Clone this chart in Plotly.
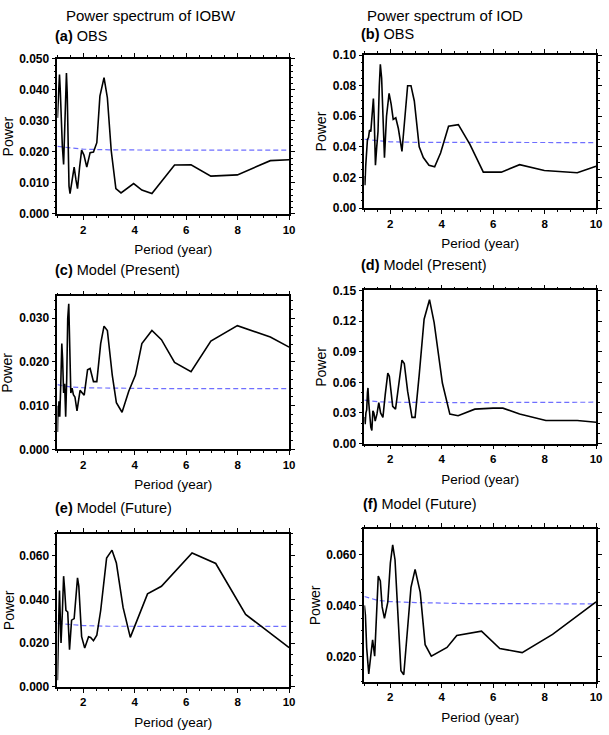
import plotly.graph_objects as go

W, H = 609, 735

# ---------------- data ----------------
a_period = [1.00, 1.04, 1.08, 1.11, 1.14, 1.19, 1.24, 1.28, 1.32, 1.35, 1.38, 1.41, 1.45, 1.49, 1.56, 1.65, 1.72, 1.78, 1.86, 1.94, 2.03, 2.14, 2.27, 2.40, 2.53, 2.65, 2.81, 2.94, 3.09, 3.27, 3.47, 3.70, 3.96, 4.28, 4.67, 5.55, 6.19, 6.96, 7.99, 9.27, 10.0]
a_power = [0.031, 0.038, 0.045, 0.040, 0.030, 0.022, 0.016, 0.028, 0.040, 0.0455, 0.039, 0.020, 0.009, 0.0066, 0.011, 0.0151, 0.011, 0.0082, 0.015, 0.0206, 0.019, 0.0151, 0.0198, 0.0200, 0.0230, 0.0380, 0.0440, 0.0375, 0.0204, 0.0082, 0.0068, 0.0083, 0.0098, 0.0077, 0.0066, 0.0158, 0.0159, 0.0122, 0.0126, 0.0172, 0.0175]

b_period = [1.00, 1.02, 1.05, 1.08, 1.12, 1.16, 1.20, 1.25, 1.30, 1.35, 1.38, 1.43, 1.48, 1.53, 1.58, 1.62, 1.67, 1.73, 1.78, 1.86, 1.96, 2.04, 2.12, 2.22, 2.32, 2.46, 2.57, 2.68, 2.81, 2.94, 3.13, 3.29, 3.51, 3.73, 3.96, 4.27, 4.65, 5.10, 5.62, 6.32, 7.03, 7.99, 9.27, 10.0]
b_power = [0.021, 0.015, 0.027, 0.040, 0.045, 0.046, 0.051, 0.050, 0.060, 0.0716, 0.060, 0.028, 0.040, 0.050, 0.080, 0.094, 0.085, 0.050, 0.033, 0.060, 0.075, 0.068, 0.058, 0.059, 0.052, 0.037, 0.060, 0.080, 0.080, 0.070, 0.040, 0.033, 0.028, 0.027, 0.036, 0.0535, 0.0545, 0.0417, 0.0235, 0.0235, 0.0284, 0.0246, 0.0231, 0.0274]

c_period = [1.00, 1.02, 1.04, 1.06, 1.09, 1.13, 1.17, 1.20, 1.24, 1.28, 1.32, 1.36, 1.40, 1.44, 1.48, 1.52, 1.57, 1.62, 1.68, 1.76, 1.88, 1.96, 2.04, 2.17, 2.27, 2.40, 2.53, 2.68, 2.81, 2.94, 3.13, 3.29, 3.51, 3.77, 4.03, 4.28, 4.67, 5.04, 5.55, 6.19, 6.96, 7.99, 9.27, 10.0]
c_power = [0.0040, 0.0100, 0.0075, 0.0110, 0.0075, 0.0150, 0.0242, 0.0208, 0.0129, 0.0150, 0.0075, 0.0160, 0.0300, 0.0333, 0.0250, 0.0129, 0.0140, 0.0125, 0.0120, 0.0088, 0.0135, 0.0130, 0.0124, 0.0182, 0.0185, 0.0155, 0.0155, 0.0242, 0.0282, 0.0272, 0.0170, 0.0107, 0.0085, 0.0133, 0.0170, 0.0242, 0.0272, 0.0251, 0.0199, 0.0178, 0.0248, 0.0283, 0.0257, 0.0234]

d_period = [1.00, 1.03, 1.06, 1.09, 1.12, 1.14, 1.17, 1.21, 1.25, 1.29, 1.33, 1.37, 1.42, 1.49, 1.56, 1.63, 1.72, 1.81, 1.91, 1.97, 2.10, 2.21, 2.33, 2.46, 2.55, 2.68, 2.85, 2.97, 3.13, 3.32, 3.53, 3.71, 4.03, 4.32, 4.64, 5.29, 6.00, 6.38, 7.03, 8.05, 9.27, 10.0]
d_power = [0.026, 0.019, 0.030, 0.033, 0.050, 0.0545, 0.040, 0.025, 0.016, 0.0128, 0.032, 0.030, 0.022, 0.029, 0.040, 0.030, 0.0256, 0.048, 0.069, 0.066, 0.0365, 0.0337, 0.0577, 0.0817, 0.0785, 0.0513, 0.0256, 0.0256, 0.0673, 0.1218, 0.1410, 0.1186, 0.0593, 0.0288, 0.0272, 0.0337, 0.0347, 0.0347, 0.0289, 0.0225, 0.0225, 0.0209]

e_period = [1.00, 1.03, 1.05, 1.08, 1.10, 1.14, 1.19, 1.24, 1.28, 1.33, 1.40, 1.47, 1.55, 1.65, 1.78, 1.83, 1.94, 2.06, 2.21, 2.29, 2.40, 2.53, 2.68, 2.91, 3.12, 3.29, 3.55, 3.83, 4.50, 5.04, 6.23, 7.15, 8.31, 10.0]
e_power = [0.003, 0.014, 0.0305, 0.044, 0.032, 0.020, 0.0335, 0.0506, 0.0446, 0.035, 0.0342, 0.017, 0.0305, 0.0312, 0.0498, 0.0461, 0.0229, 0.0177, 0.0229, 0.0226, 0.0211, 0.0236, 0.0349, 0.0589, 0.0625, 0.0566, 0.0363, 0.0226, 0.0425, 0.0460, 0.0612, 0.0564, 0.0331, 0.0179]

f_period = [1.00, 1.04, 1.09, 1.13, 1.17, 1.24, 1.32, 1.40, 1.47, 1.54, 1.62, 1.69, 1.78, 1.91, 2.01, 2.10, 2.19, 2.29, 2.42, 2.53, 2.65, 2.81, 2.97, 3.17, 3.36, 3.60, 4.21, 4.59, 5.55, 6.26, 7.13, 8.31, 10.0]
f_power = [0.040, 0.0362, 0.0233, 0.016, 0.0131, 0.0195, 0.0265, 0.0201, 0.0368, 0.0515, 0.0496, 0.0394, 0.0349, 0.0413, 0.0567, 0.0637, 0.0579, 0.0374, 0.0144, 0.0128, 0.0272, 0.0471, 0.0541, 0.0451, 0.0246, 0.0201, 0.0235, 0.0282, 0.0299, 0.0231, 0.0215, 0.0286, 0.0414]

sig_period = [1.0, 1.5, 2.0, 3.0, 5.0, 10.0]
a_sig = [0.0218, 0.0213, 0.0209, 0.0207, 0.0206, 0.0206]
b_sig = [0.0450, 0.0440, 0.0433, 0.0430, 0.0428, 0.0428]
c_sig = [0.0148, 0.0143, 0.0141, 0.0140, 0.0139, 0.0139]
d_sig = [0.0425, 0.0410, 0.0405, 0.0402, 0.0401, 0.0405]
e_sig = [0.0290, 0.0284, 0.0280, 0.0277, 0.0276, 0.0276]
f_sig = [0.0435, 0.0420, 0.0415, 0.0411, 0.0407, 0.0406]

x_ticks = [2, 4, 6, 8, 10]
col_titles = ["Power spectrum of IOBW", "Power spectrum of IOD"]
panel_labels = ["(a)", "(b)", "(c)", "(d)", "(e)", "(f)"]
panel_names = ["OBS", "OBS", "Model (Present)", "Model (Present)", "Model (Future)", "Model (Future)"]

# ---------------- layout helpers ----------------
FONT = "Liberation Sans, Arial, Helvetica, sans-serif"

def px(x):
    return x / W

def py(y):
    return 1 - y / H

# panel boxes in pixels: (left, right, top, bottom)
boxes = [
    (58, 292, 53, 211),
    (368, 602, 49, 205),
    (58, 292, 295, 451),
    (368, 602, 289, 445),
    (58, 292, 537, 693),
    (368, 602, 532, 688),
]
# y axis settings: (min, max, dtick, tick0, minor dtick, format)
yset = [
    (0.0, 0.05, 0.01, 0.0, 0.002, ".3f"),
    (0.0, 0.10, 0.02, 0.0, 0.005, ".2f"),
    (0.0, 0.035, 0.01, 0.0, 0.002, ".3f"),
    (0.0, 0.15, 0.03, 0.0, 0.01, ".2f"),
    (0.0, 0.07, 0.02, 0.0, 0.005, ".3f"),
    (0.01, 0.07, 0.02, 0.02, 0.005, ".3f"),
]
label_pos = [(54, 30), (363, 28), (54, 268), (363, 263), (54, 511), (365, 507)]
ylab_x = [9, 324, 7, 324, 9, 319]

series = [(a_period, a_power, a_sig), (b_period, b_power, b_sig),
          (c_period, c_power, c_sig), (d_period, d_power, d_sig),
          (e_period, e_power, e_sig), (f_period, f_power, f_sig)]

fig = go.Figure()
annotations = []
layout_axes = {}

for i, ((xp, yp, sg), box, ys) in enumerate(zip(series, boxes, yset)):
    n = i + 1
    xa = "x" if n == 1 else f"x{n}"
    ya = "y" if n == 1 else f"y{n}"
    fig.add_trace(go.Scatter(x=sig_period, y=sg, mode="lines", xaxis=xa, yaxis=ya,
                             line=dict(color="#6f6fff", width=1.2, dash="5px,3px"),
                             showlegend=False, hoverinfo="skip"))
    fig.add_trace(go.Scatter(x=xp, y=yp, mode="lines", xaxis=xa, yaxis=ya,
                             line=dict(color="black", width=1.6),
                             showlegend=False))
    l, r, t, b = box
    xkey = "xaxis" if n == 1 else f"xaxis{n}"
    ykey = "yaxis" if n == 1 else f"yaxis{n}"
    layout_axes[xkey] = dict(
        domain=[px(l), px(r)], anchor=ya, range=[1, 10],
        tickvals=x_ticks, ticks="outside", ticklen=4, tickwidth=1.2, tickcolor="black",
        showline=True, linecolor="black", linewidth=1.6, mirror="ticks",
        showgrid=False, zeroline=False,
        tickfont=dict(family=FONT, size=11.5, color="black", weight="bold"),
        minor=dict(dtick=0.5, tick0=1, ticks="outside", ticklen=2, tickwidth=1, tickcolor="black", showgrid=False),
        title=dict(text="Period (year)", font=dict(family=FONT, size=13.5, color="black"), standoff=10),
    )
    ymin, ymax, dt, t0, mdt, fmt = ys
    layout_axes[ykey] = dict(
        domain=[py(b), py(t)], anchor=xa, range=[ymin, ymax],
        dtick=dt, tick0=t0, tickformat=fmt,
        ticks="outside", ticklen=4, tickwidth=1.2, tickcolor="black",
        showline=True, linecolor="black", linewidth=1.6, mirror="ticks",
        showgrid=False, zeroline=False,
        tickfont=dict(family=FONT, size=12, color="black", weight="bold"),
        minor=dict(dtick=mdt, tick0=t0, ticks="outside", ticklen=2, tickwidth=1, tickcolor="black", showgrid=False),
    )
    lx, ly = label_pos[i]
    annotations.append(dict(text=f"<b>{panel_labels[i]}</b> {panel_names[i]}",
                            x=px(lx), y=py(ly), xref="paper", yref="paper",
                            xanchor="left", yanchor="middle", showarrow=False,
                            font=dict(family=FONT, size=14.5, color="black")))
    annotations.append(dict(text="Power", x=px(ylab_x[i]), y=py((t + b) / 2),
                            xref="paper", yref="paper", textangle=-90,
                            xanchor="center", yanchor="middle", showarrow=False,
                            font=dict(family=FONT, size=14, color="black")))

annotations.append(dict(text=col_titles[0], x=px(152), y=py(9), xref="paper", yref="paper",
                        xanchor="center", yanchor="middle", showarrow=False,
                        font=dict(family=FONT, size=15, color="black")))
annotations.append(dict(text=col_titles[1], x=px(449), y=py(9), xref="paper", yref="paper",
                        xanchor="center", yanchor="middle", showarrow=False,
                        font=dict(family=FONT, size=15, color="black")))

fig.update_layout(
    width=W, height=H, margin=dict(l=0, r=0, t=0, b=0),
    paper_bgcolor="white", plot_bgcolor="white",
    annotations=annotations, **layout_axes,
)

fig.write_html(
    "out.html",
    config={"displayModeBar": False},
    post_script="document.body.style.margin='0';document.body.style.padding='0';document.body.style.overflow='hidden';",
)
